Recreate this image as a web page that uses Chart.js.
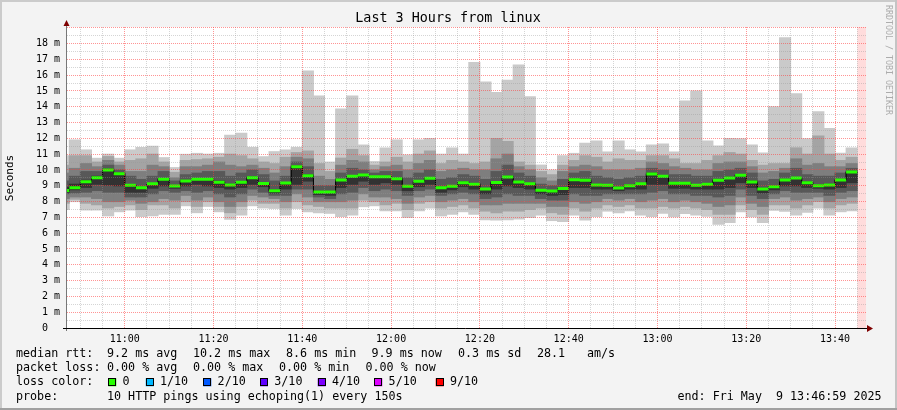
<!DOCTYPE html>
<html>
<head>
<meta charset="utf-8">
<title>Last 3 Hours from linux</title>
<style>
  html, body { margin: 0; padding: 0; background: #f3f3f3; }
  #chart { display: block; background: #f3f3f3; }
</style>
<script src="https://cdn.jsdelivr.net/npm/chart.js"></script>
</head>
<body>
<canvas id="chart" width="897" height="410"></canvas>
<script>
// end of each 150 s step
var times = [
  '10:47:30', '10:50:00', '10:52:30', '10:55:00', '10:57:30', '11:00:00', '11:02:30', '11:05:00', '11:07:30', '11:10:00', '11:12:30', '11:15:00',
  '11:17:30', '11:20:00', '11:22:30', '11:25:00', '11:27:30', '11:30:00', '11:32:30', '11:35:00', '11:37:30', '11:40:00', '11:42:30', '11:45:00',
  '11:47:30', '11:50:00', '11:52:30', '11:55:00', '11:57:30', '12:00:00', '12:02:30', '12:05:00', '12:07:30', '12:10:00', '12:12:30', '12:15:00',
  '12:17:30', '12:20:00', '12:22:30', '12:25:00', '12:27:30', '12:30:00', '12:32:30', '12:35:00', '12:37:30', '12:40:00', '12:42:30', '12:45:00',
  '12:47:30', '12:50:00', '12:52:30', '12:55:00', '12:57:30', '13:00:00', '13:02:30', '13:05:00', '13:07:30', '13:10:00', '13:12:30', '13:15:00',
  '13:17:30', '13:20:00', '13:22:30', '13:25:00', '13:27:30', '13:30:00', '13:32:30', '13:35:00', '13:37:30', '13:40:00', '13:42:30', '13:45:00'
];

// the 10 pings of each step, sorted (ms)
var ping1 = [
  7.5, 8.0, 7.47, 7.47, 7.1, 7.36, 7.47, 7.05, 7.1, 7.2, 7.2, 7.74,
  7.3, 7.7, 7.36, 6.88, 7.15, 7.74, 7.6, 7.57, 7.15, 7.57, 7.36, 7.3,
  7.26, 7.05, 7.15, 7.68, 7.74, 7.42, 7.42, 7.0, 7.42, 7.6, 7.1, 7.2,
  7.36, 7.2, 6.85, 6.84, 6.85, 6.9, 7.0, 7.15, 6.8, 6.74, 7.15, 6.84,
  7.05, 7.4, 7.3, 7.42, 7.15, 7.05, 7.26, 7.04, 7.25, 7.15, 7.08, 6.56,
  6.67, 7.36, 7.04, 6.67, 7.46, 7.39, 7.15, 7.32, 7.6, 7.15, 7.36, 7.42
];
var ping2 = [
  7.9, 8.15, 7.9, 7.8, 7.6, 7.7, 7.8, 7.5, 7.8, 7.8, 7.6, 8.0,
  7.7, 8.0, 7.7, 7.3, 7.7, 8.1, 7.9, 7.9, 7.6, 8.0, 7.8, 7.7,
  7.6, 7.6, 7.6, 8.1, 8.0, 7.8, 7.9, 7.5, 7.9, 8.0, 7.6, 7.7,
  7.8, 7.6, 7.4, 7.3, 7.4, 7.4, 7.5, 7.6, 7.3, 7.2, 7.6, 7.4,
  7.6, 7.8, 7.7, 7.8, 7.6, 7.6, 7.7, 7.6, 7.7, 7.6, 7.5, 7.2,
  7.2, 7.8, 7.5, 7.2, 7.8, 7.8, 7.6, 7.8, 8.0, 7.6, 7.8, 7.9
];
var ping3 = [
  8.2, 8.3, 8.3, 8.2, 8.0, 8.0, 8.1, 7.9, 8.0, 8.2, 8.1, 8.4,
  8.1, 8.3, 8.0, 7.7, 8.0, 8.4, 8.3, 8.2, 8.0, 8.5, 8.3, 8.0,
  8.0, 8.0, 8.1, 8.5, 8.3, 8.3, 8.2, 7.9, 8.3, 8.4, 8.0, 8.1,
  8.2, 8.0, 7.8, 7.8, 7.9, 7.9, 7.9, 7.9, 7.7, 7.7, 8.0, 7.9,
  8.0, 8.2, 8.1, 8.2, 8.0, 8.1, 8.2, 8.0, 8.1, 8.0, 7.9, 7.7,
  7.8, 8.3, 7.9, 7.7, 8.2, 8.3, 8.1, 8.2, 8.3, 8.0, 8.2, 8.3
];
var ping4 = [
  8.5, 8.55, 8.6, 8.7, 8.6, 8.6, 8.3, 8.3, 8.5, 8.7, 8.6, 8.7,
  8.6, 8.7, 8.5, 8.3, 8.5, 8.8, 8.6, 8.4, 8.4, 8.8, 8.8, 8.3,
  8.2, 8.5, 8.6, 8.9, 8.7, 8.8, 8.7, 8.4, 8.7, 8.8, 8.4, 8.5,
  8.6, 8.5, 8.2, 8.3, 8.5, 8.4, 8.4, 8.2, 8.1, 8.1, 8.5, 8.4,
  8.4, 8.5, 8.5, 8.5, 8.5, 8.6, 8.7, 8.5, 8.5, 8.4, 8.4, 8.3,
  8.4, 8.8, 8.4, 8.2, 8.5, 8.7, 8.6, 8.6, 8.6, 8.4, 8.6, 8.7
];
var ping5 = [
  8.6, 8.75, 8.9, 9.1, 9.05, 9.0, 8.6, 8.6, 8.85, 9.0, 8.85, 9.0,
  9.1, 9.0, 8.9, 8.8, 8.9, 9.1, 8.95, 8.55, 8.8, 9.1, 9.3, 8.45,
  8.4, 8.9, 9.1, 9.3, 9.1, 9.2, 9.1, 8.7, 8.95, 9.1, 8.6, 8.75,
  8.95, 8.8, 8.5, 8.8, 9.0, 8.9, 8.8, 8.5, 8.4, 8.45, 8.9, 8.9,
  8.8, 8.8, 8.7, 8.8, 8.8, 9.1, 9.1, 8.85, 8.85, 8.8, 8.8, 8.8,
  8.9, 9.2, 8.9, 8.55, 8.75, 9.0, 9.0, 8.9, 8.85, 8.8, 8.9, 9.2
];
var ping6 = [
  8.9, 9.1, 9.35, 9.6, 10.05, 9.8, 9.05, 8.9, 9.15, 9.45, 9.0, 9.35,
  9.45, 9.45, 9.3, 9.1, 9.25, 9.55, 9.2, 8.75, 9.2, 10.25, 9.7, 8.65,
  8.65, 9.4, 9.65, 9.7, 9.6, 9.6, 9.5, 9.0, 9.3, 9.5, 8.9, 9.0,
  9.25, 9.15, 8.8, 9.25, 9.6, 9.3, 9.15, 8.75, 8.7, 8.85, 9.4, 9.4,
  9.1, 9.05, 8.9, 9.05, 9.15, 9.8, 9.65, 9.2, 9.2, 9.05, 9.15, 9.4,
  9.55, 9.7, 9.3, 8.85, 9.0, 9.4, 9.5, 9.25, 9.05, 9.1, 9.4, 9.9
];
var ping7 = [
  9.3, 9.6, 9.9, 9.9, 10.3, 10.0, 9.6, 9.4, 9.6, 9.9, 9.3, 9.7,
  9.8, 9.9, 9.9, 9.6, 9.8, 10.0, 9.7, 9.3, 9.6, 10.5, 10.2, 9.0,
  9.0, 9.8, 10.1, 10.0, 9.8, 9.9, 9.9, 9.5, 9.8, 10.0, 9.4, 9.5,
  9.7, 9.6, 9.4, 9.9, 10.3, 9.8, 9.6, 9.1, 9.0, 9.4, 9.8, 9.9,
  9.6, 9.5, 9.4, 9.5, 9.6, 10.1, 10.0, 9.7, 9.7, 9.6, 9.6, 9.9,
  10.0, 10.1, 9.8, 9.3, 9.4, 9.8, 10.1, 9.7, 9.6, 9.6, 9.8, 10.1
];
var ping8 = [
  9.8, 10.1, 10.4, 10.2, 10.6, 10.3, 9.9, 9.9, 10.3, 10.2, 9.5, 10.2,
  10.2, 10.3, 10.5, 10.3, 10.2, 10.3, 10.1, 9.8, 10.2, 10.8, 10.7, 9.6,
  9.4, 10.3, 10.6, 10.5, 10.0, 10.2, 10.3, 10.0, 10.4, 10.6, 9.9, 10.0,
  10.1, 10.0, 10.0, 10.7, 11.0, 10.2, 10.0, 9.5, 9.3, 9.9, 10.2, 10.3,
  10.2, 10.0, 10.0, 10.0, 10.1, 10.5, 10.4, 10.2, 10.1, 10.0, 10.0, 10.4,
  10.5, 10.5, 10.2, 9.8, 9.9, 10.1, 10.7, 10.3, 10.4, 10.2, 10.2, 10.4
];
var ping9 = [
  10.3, 10.9, 10.9, 10.5, 10.85, 10.5, 10.6, 10.7, 11.0, 10.5, 9.85, 10.6,
  10.65, 10.7, 10.8, 11.0, 10.9, 10.7, 10.5, 10.4, 10.8, 11.1, 11.2, 10.4,
  9.9, 10.75, 11.3, 10.9, 10.3, 10.5, 10.8, 10.5, 11.0, 11.2, 10.4, 10.6,
  10.5, 10.4, 10.5, 12.0, 11.8, 10.5, 10.3, 9.9, 9.7, 10.3, 10.6, 10.9,
  10.8, 10.5, 10.7, 10.6, 10.6, 10.9, 10.9, 10.7, 10.4, 10.4, 10.6, 10.9,
  11.1, 11.0, 10.6, 10.3, 10.4, 10.4, 11.4, 11.0, 12.15, 11.0, 10.6, 10.8
];
var ping10 = [
  10.9, 11.9, 11.27, 10.74, 11.0, 10.74, 11.27, 11.43, 11.5, 10.78, 10.15, 10.99,
  11.05, 11.0, 11.05, 12.2, 12.32, 11.43, 10.84, 11.16, 11.27, 11.43, 16.27, 14.68,
  10.5, 13.86, 14.68, 11.58, 10.53, 11.39, 11.9, 10.95, 11.9, 12.0, 11.0, 11.39,
  11.0, 16.8, 15.57, 14.9, 15.68, 16.65, 14.63, 10.31, 10.0, 10.9, 11.05, 11.69,
  11.84, 11.14, 11.84, 11.27, 11.14, 11.58, 11.65, 11.14, 14.37, 15.0, 11.84, 11.52,
  12.0, 11.97, 11.58, 11.08, 14.0, 18.37, 14.83, 11.97, 13.69, 12.62, 11.06, 11.39
];
var median = [
  8.7, 8.88, 9.26, 9.51, 10.0, 9.77, 9.03, 8.88, 9.13, 9.41, 8.99, 9.3,
  9.41, 9.41, 9.22, 9.05, 9.22, 9.51, 9.15, 8.69, 9.18, 10.21, 9.64, 8.6,
  8.6, 9.37, 9.6, 9.68, 9.58, 9.58, 9.45, 8.97, 9.28, 9.47, 8.88, 8.97,
  9.2, 9.1, 8.79, 9.21, 9.55, 9.24, 9.13, 8.72, 8.67, 8.83, 9.39, 9.35,
  9.05, 9.03, 8.86, 9.01, 9.13, 9.75, 9.6, 9.16, 9.16, 9.03, 9.1, 9.35,
  9.49, 9.66, 9.24, 8.8, 8.94, 9.37, 9.49, 9.2, 9.01, 9.05, 9.37, 9.87
];

var xTickLabels = ['11:00', '11:20', '11:40', '12:00', '12:20', '12:40', '13:00', '13:20', '13:40'];
var yTickLabels = ['0  ', '1 m', '2 m', '3 m', '4 m', '5 m', '6 m', '7 m', '8 m', '9 m',
  '10 m', '11 m', '12 m', '13 m', '14 m', '15 m', '16 m', '17 m', '18 m'];

var lossLabels = ['0', '1/10', '2/10', '3/10', '4/10', '5/10', '9/10'];
var lossColors = ['#26ff00', '#00b8ff', '#0059ff', '#5e00ff', '#7e00ff', '#dd00ff', '#ff0000'];

var START = '10:46:59', END = '13:46:59';
var STEP = 2.5;      // minutes (150 s)
var Y_MAX = 19.05;
var MONO = '"DejaVu Sans Mono", "Liberation Mono", monospace';
var MAJOR = 'rgba(255, 60, 60, 0.55)';
var MINOR = 'rgba(150, 150, 150, 0.4)';

function toMin(s) {
    var p = s.split(':');
    return (+p[0]) * 60 + (+p[1]) + (+(p[2] || 0)) / 60;
}
function fmt(m) {
    var h = Math.floor(m / 60), mm = Math.round(m % 60);
    return (h < 10 ? '0' : '') + h + ':' + (mm < 10 ? '0' : '') + mm;
}
function isMajorX(v) { return Math.abs(v % 20) < 1e-6; }
function isMajorY(v) { return Math.abs(v - Math.round(v)) < 1e-6; }

var xMin = toMin(START), xMax = toMin(END);
var ends = times.map(toMin);
var pings = [ping1, ping2, ping3, ping4, ping5, ping6, ping7, ping8, ping9, ping10];
var shades = ['#cacaca', '#a4a4a4', '#7e7e7e', '#585858', '#323232'];

var datasets = [];

// median: green bar per step
var medPts = [];
ends.forEach(function (t, i) {
    medPts.push({x: t - STEP, y: median[i]}, {x: t, y: median[i]}, {x: t, y: null});
});
datasets.push({
    type: 'line', data: medPts, borderColor: '#26ff00', borderWidth: 3,
    borderCapStyle: 'butt', pointRadius: 0, spanGaps: false, order: 0, clip: 0
});

// thin dark line joining the medians (horizontal first, then the jump)
var stepPts = ends.map(function (t, i) { return {x: t - STEP, y: median[i]}; });
stepPts.push({x: ends[ends.length - 1], y: median[median.length - 1]});
datasets.push({
    type: 'line', data: stepPts, stepped: 'before', borderColor: '#000000',
    borderWidth: 1, pointRadius: 0, order: 1, clip: 0
});

// smoke: ping i .. ping 11-i
for (var i = 0; i < 5; i++) {
    var lo = pings[i], hi = pings[9 - i];
    datasets.push({
        type: 'bar',
        data: ends.map(function (t, k) { return {x: t - STEP / 2, y: [lo[k], hi[k]]}; }),
        backgroundColor: shades[i], borderWidth: 0, grouped: false,
        barPercentage: 1, categoryPercentage: 1, inflateAmount: 0.5,
        order: 6 - i, clip: 0
    });
}

// no data yet after the last step
datasets.push({
    type: 'line',
    data: [{x: ends[ends.length - 1], y: Y_MAX}, {x: xMax, y: Y_MAX}],
    fill: 'origin', backgroundColor: '#ffdcdc', borderWidth: 0, pointRadius: 0,
    order: 7, clip: 0
});

var decor = {
    id: 'decor',
    beforeDraw: function (chart) {
        var c = chart.ctx, a = chart.chartArea;
        c.save();
        c.fillStyle = '#ffffff';
        c.fillRect(a.left, a.top, a.right - a.left, a.bottom - a.top);
        c.restore();
    },
    afterDraw: function (chart) {
        var c = chart.ctx, a = chart.chartArea;
        var W = chart.width, H = chart.height;
        c.save();

        // frame
        c.fillStyle = '#cbcbcb';
        c.fillRect(0, 0, W, 2);
        c.fillRect(0, 0, 2, H);
        c.fillStyle = '#c4c4c4';
        c.fillRect(W - 2, 0, 2, H);
        c.fillStyle = '#a0a0a0';
        c.fillRect(0, H - 2, W, 2);

        // axes
        c.lineWidth = 1;
        c.strokeStyle = '#777777';
        c.beginPath();
        c.moveTo(a.left - 0.5, 24);
        c.lineTo(a.left - 0.5, a.bottom + 3);
        c.stroke();
        c.strokeStyle = '#000000';
        c.beginPath();
        c.moveTo(a.left - 4, a.bottom + 0.5);
        c.lineTo(a.right + 2, a.bottom + 0.5);
        c.stroke();
        c.fillStyle = '#7f0000';
        c.beginPath();
        c.moveTo(a.left - 3.5, 26);
        c.lineTo(a.left + 2.5, 26);
        c.lineTo(a.left - 0.5, 20);
        c.closePath();
        c.fill();
        c.beginPath();
        c.moveTo(a.right + 1, a.bottom - 3);
        c.lineTo(a.right + 1, a.bottom + 4);
        c.lineTo(a.right + 7, a.bottom + 0.5);
        c.closePath();
        c.fill();

        // title
        c.fillStyle = '#000000';
        c.font = '13.4px ' + MONO;
        c.textAlign = 'center';
        c.textBaseline = 'middle';
        c.fillText('Last 3 Hours from linux', 448, 19);

        // y title
        c.save();
        c.font = '11px ' + MONO;
        c.translate(10, 178);
        c.rotate(-Math.PI / 2);
        c.fillText('Seconds', 0, 0);
        c.restore();

        // watermark
        c.save();
        c.fillStyle = '#acacac';
        c.font = '8.3px ' + MONO;
        c.translate(888, 60);
        c.rotate(Math.PI / 2);
        c.fillText('RRDTOOL / TOBI OETIKER', 0, 0);
        c.restore();

        // legend
        c.font = '11.7px ' + MONO;
        c.textAlign = 'left';
        var rows = [354.3, 368.3, 382.3, 396.7];
        c.fillText('median rtt:', 16, rows[0]);
        c.fillText('9.2 ms avg', 107, rows[0]);
        c.fillText('10.2 ms max', 193, rows[0]);
        c.fillText('8.6 ms min', 286, rows[0]);
        c.fillText('9.9 ms now', 371.5, rows[0]);
        c.fillText('0.3 ms sd', 458, rows[0]);
        c.fillText('28.1', 537, rows[0]);
        c.fillText('am/s', 587, rows[0]);

        c.fillText('packet loss:', 16, rows[1]);
        c.fillText('0.00 % avg', 107, rows[1]);
        c.fillText('0.00 % max', 193, rows[1]);
        c.fillText('0.00 % min', 279, rows[1]);
        c.fillText('0.00 % now', 365.5, rows[1]);

        c.fillText('loss color:', 16, rows[2]);
        var boxX = [108.3, 145.7, 203.3, 260, 317.7, 374.3, 435.7];
        lossLabels.forEach(function (lab, j) {
            c.fillStyle = lossColors[j];
            c.fillRect(boxX[j], rows[2] - 4, 8, 8);
            c.strokeStyle = '#000000';
            c.strokeRect(Math.round(boxX[j]) + 0.5, Math.round(rows[2] - 4) + 0.5, 7, 7);
            c.fillStyle = '#000000';
            c.fillText(lab, boxX[j] + 14.3, rows[2]);
        });

        c.fillText('probe:', 16, rows[3]);
        c.fillText('10 HTTP pings using echoping(1) every 150s', 107, rows[3]);
        c.fillText('end: Fri May  9 13:46:59 2025', 677.5, rows[3]);

        c.restore();
    }
};

new Chart(document.getElementById('chart').getContext('2d'), {
    type: 'line',
    data: {datasets: datasets},
    options: {
        responsive: false,
        animation: false,
        devicePixelRatio: 1,
        events: [],
        layout: {padding: {top: 27, right: 31, bottom: 62, left: 0}},
        plugins: {legend: {display: false}, tooltip: {enabled: false}},
        scales: {
            x: {
                type: 'linear', min: xMin, max: xMax, offset: false,
                afterBuildTicks: function (s) {
                    var t = [];
                    for (var v = Math.ceil(xMin / 5) * 5; v <= xMax; v += 5) t.push({value: v});
                    s.ticks = t;
                },
                afterFit: function (s) { s.height = 20; },
                grid: {
                    z: 1, drawTicks: false, offset: false, lineWidth: 1,
                    color: function (ctx) { return ctx.tick && isMajorX(ctx.tick.value) ? MAJOR : MINOR; }
                },
                border: {display: false, dash: [1, 1]},
                ticks: {
                    autoSkip: false, maxRotation: 0, padding: 5, color: '#000000',
                    font: {family: MONO, size: 10},
                    callback: function (v) {
                        var s = fmt(v);
                        return isMajorX(v) && xTickLabels.indexOf(s) >= 0 ? s : '';
                    }
                }
            },
            y: {
                min: 0, max: Y_MAX,
                afterBuildTicks: function (s) {
                    var t = [];
                    for (var v = 0; v <= Y_MAX; v += 0.5) t.push({value: v});
                    s.ticks = t;
                },
                afterFit: function (s) { s.width = 67; },
                grid: {
                    z: 1, drawTicks: false, lineWidth: 1,
                    color: function (ctx) { return ctx.tick && isMajorY(ctx.tick.value) ? MAJOR : MINOR; }
                },
                border: {display: false, dash: [1, 1]},
                ticks: {
                    autoSkip: false, padding: 7, color: '#000000',
                    font: {family: MONO, size: 10},
                    callback: function (v) { return isMajorY(v) ? (yTickLabels[Math.round(v)] || '') : ''; }
                }
            }
        }
    },
    plugins: [decor]
});
</script>
</body>
</html>
